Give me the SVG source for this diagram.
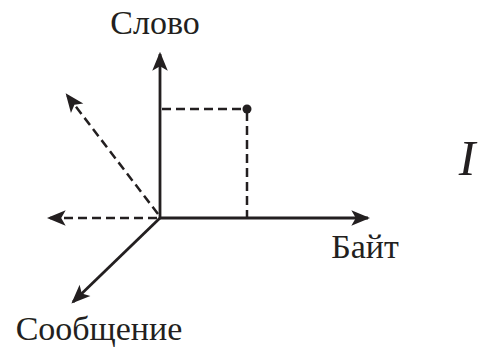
<svg xmlns="http://www.w3.org/2000/svg" width="480" height="347" viewBox="0 0 480 347">
<style>
.ax{stroke:#231f20;stroke-width:2.8;fill:none}
.da{stroke:#231f20;stroke-width:2.5;fill:none;stroke-dasharray:9,5}
.t{font-family:"Liberation Serif",serif;fill:#231f20;font-size:34px}
</style>
<defs>
<marker id="ah" markerUnits="userSpaceOnUse" markerWidth="20" markerHeight="20" viewBox="-16 -8 18 16" refX="0" refY="0" orient="auto">
<path d="M2,0 L-15,-7 L-11,0 L-15,7 Z" fill="#231f20"/>
</marker>
</defs>
<rect width="480" height="347" fill="#fff"/>
<g id="connectors">
<line class="ax" x1="160" y1="218" x2="160" y2="54" marker-end="url(#ah)"/>
<line class="ax" x1="160" y1="218" x2="368" y2="218" marker-end="url(#ah)"/>
<line class="ax" x1="160" y1="218" x2="73" y2="302" marker-end="url(#ah)"/>
<line class="da" x1="157" y1="218" x2="49" y2="218" marker-end="url(#ah)"/>
<line class="da" x1="158" y1="214" x2="67" y2="95" marker-end="url(#ah)"/>
<line class="da" x1="162" y1="109" x2="247" y2="109"/>
<line class="da" x1="247" y1="112" x2="247" y2="217"/>
</g>
<g id="point"><circle cx="247" cy="109" r="4.5" fill="#231f20"/></g>
<g id="label-slovo"><text class="t" x="155" y="34" text-anchor="middle">Слово</text></g>
<g id="label-bait"><text class="t" x="365" y="258" text-anchor="middle">Байт</text></g>
<g id="label-soob"><text class="t" x="99" y="340" text-anchor="middle">Сообщение</text></g>
<g id="label-I"><text class="t" x="467" y="175" style="font-size:50px" font-style="italic" text-anchor="middle">I</text></g>
</svg>
